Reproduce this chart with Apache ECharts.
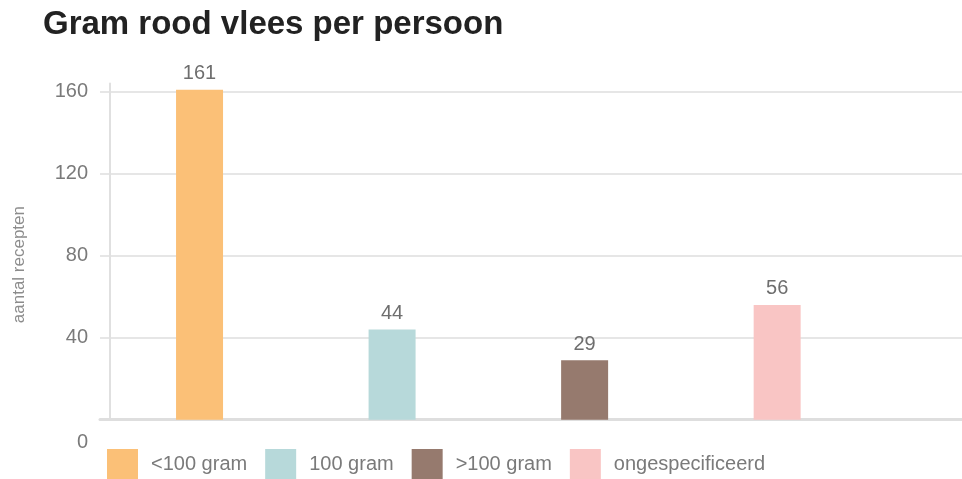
<!DOCTYPE html>
<html>
<head>
<meta charset="utf-8">
<script src="https://cdn.jsdelivr.net/npm/echarts@6/dist/echarts.min.js"></script>
<style>
  html, body { margin: 0; padding: 0; background: #fff; }
  #chart { width: 962px; height: 479px; }
</style>
</head>
<body>
<div id="chart"></div>
<script>
// Number of recipes per amount of red meat per person
const categories = ['<100 gram', '100 gram', '>100 gram', 'ongespecificeerd'];
const recipeCounts = [161, 44, 29, 56];
const barColors = ['#FBC077', '#B7D9DA', '#967A6E', '#F9C5C4'];
const yTicks = [0, 40, 80, 120, 160];

const FONT = '"Liberation Sans", Arial, sans-serif';
const GREY_TEXT = '#7a7a7a';

const chart = echarts.init(document.getElementById('chart'), null, { renderer: 'canvas' });

// one series per category so every bar gets its own legend entry
const series = categories.map((name, i) => ({
  name: name,
  type: 'bar',
  data: [[i, recipeCounts[i]]],
  barWidth: 47,
  barGap: '-100%',
  itemStyle: { color: barColors[i] },
  label: {
    show: true,
    position: 'top',
    distance: 6,
    color: '#6e6e6e',
    fontFamily: FONT,
    fontSize: 20
  },
  emphasis: { disabled: true }
}));

chart.setOption({
  animation: false,
  color: barColors,
  title: {
    text: 'Gram rood vlees per persoon',
    left: 38,
    top: 3,
    textStyle: { fontFamily: FONT, fontWeight: 'bold', fontSize: 33, color: '#222' }
  },
  legend: {
    data: categories,
    left: 107,
    top: 449,
    padding: 0,
    itemWidth: 31,
    itemHeight: 31,
    itemGap: 18,
    icon: 'rect',
    selectedMode: false,
    textStyle: { fontFamily: FONT, fontSize: 20, color: GREY_TEXT, padding: [3, 0, 0, 8] }
  },
  grid: { left: 100, right: 0, top: 83.5, bottom: 59.3, containLabel: false },
  xAxis: {
    type: 'value',
    min: -0.517,
    max: 3.96,
    axisLine: { show: true, onZero: true, lineStyle: { color: '#dedede', width: 3 } },
    axisTick: { show: false },
    axisLabel: { show: false },
    splitLine: { show: false }
  },
  yAxis: {
    type: 'value',
    min: 0,
    max: 164,
    interval: 40,
    offset: -10,
    name: 'aantal recepten',
    nameLocation: 'middle',
    nameGap: 82,
    nameTextStyle: { fontFamily: FONT, fontSize: 17, color: '#8c8c8c', padding: [0, 26, 0, 0] },
    axisLine: { show: true, onZero: false, lineStyle: { color: '#e0e0e0', width: 2 } },
    axisTick: { show: false },
    axisLabel: {
      margin: 22,
      showMaxLabel: false,
      fontFamily: FONT,
      fontSize: 20,
      color: GREY_TEXT,
      formatter: v => (v === 0 ? '{z|0}' : (yTicks.indexOf(v) >= 0 ? String(v) : '')),
      rich: { z: { fontFamily: FONT, fontSize: 20, color: GREY_TEXT, padding: [46, 0, 0, 0] } }
    },
    splitLine: {
      show: true,
      showMaxLine: false,
      lineStyle: { color: '#e6e6e6', width: 2 }
    }
  },
  series: series
});
</script>
</body>
</html>
